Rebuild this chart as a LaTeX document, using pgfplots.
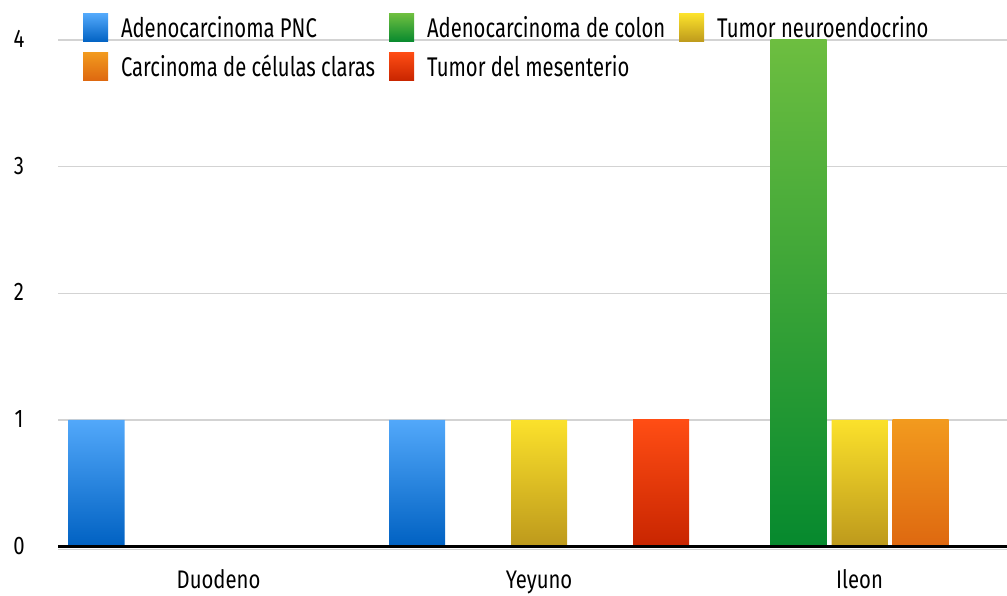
\documentclass[border=0pt]{standalone}
\usepackage{fontspec}
\setmainfont{Fira Sans}[FakeStretch=0.8]
\newfontfamily\legfont{Fira Sans}[FakeStretch=0.75]
\usepackage{pgfplots}
\pgfplotsset{compat=1.18}
\definecolor{blueT}{HTML}{52A8FA}
\definecolor{blueB}{HTML}{0061C2}
\definecolor{greenT}{HTML}{6DBE40}
\definecolor{greenB}{HTML}{06892E}
\definecolor{yellowT}{HTML}{FBE12B}
\definecolor{yellowB}{HTML}{BD991C}
\definecolor{orangeT}{HTML}{F29A1E}
\definecolor{orangeB}{HTML}{DE6810}
\definecolor{redT}{HTML}{FF4D14}
\definecolor{redB}{HTML}{C82500}
\definecolor{gridc}{HTML}{D3D3D3}
\begin{document}
\begin{tikzpicture}
\begin{axis}[
  scale only axis,
  width=474.35pt, height=253.3pt,
  xmin=-0.5, xmax=2.46,
  ymin=0, ymax=4,
  clip=false,
  axis line style={draw=none},
  xtick={0,1,2},
  xticklabels={Duodeno,Yeyuno,Ileon},
  ytick={0,1,2,3,4},
  major tick length=0pt,
  ymajorgrids,
  grid style={gridc, line width=0.75pt},
  /pgf/number format/assume math mode=true,
  xticklabel style={font=\fontsize{12.7}{14}\selectfont, anchor=base, yshift=-21pt},
  yticklabel style={font=\fontsize{12.7}{14}\selectfont, anchor=base, xshift=-19.65pt, yshift=-3.75pt},
  ybar, bar width=28pt,
  legend columns=3,
  legend style={draw=none, fill=none, inner sep=0pt, outer sep=0pt,
    at={(0.02604,1.0513)}, anchor=north west,
    font=\legfont\fontsize{13.5}{15}\selectfont,
    nodes={inner sep=0pt, text depth=3pt, anchor=base west},
    row sep=4.25pt,
    /tikz/every odd column/.append style={column sep=6.5pt},
    /tikz/every even column/.append style={column sep=7pt}},
  legend cell align=left,
  legend image code/.code={\path[#1, draw=none] (0pt,-2pt) rectangle (12.5pt,12pt);},
]
\addplot[draw=none, bar shift=-61pt, top color=blueT, bottom color=blueB] coordinates {(0,1) (1,1)};
\addplot[draw=none, bar shift=-30.5pt, top color=greenT, bottom color=greenB] coordinates {(2,4)};
\addplot[draw=none, bar shift=0pt, top color=yellowT, bottom color=yellowB] coordinates {(1,1) (2,1)};
\addplot[draw=none, bar shift=30.5pt, top color=orangeT, bottom color=orangeB] coordinates {(2,1)};
\addplot[draw=none, bar shift=61pt, top color=redT, bottom color=redB] coordinates {(1,1)};
\legend{Adenocarcinoma PNC, Adenocarcinoma de colon, Tumor neuroendocrino, Carcinoma de células claras, Tumor del mesenterio}
\draw[gridc, line width=0.6pt] ([yshift=-1.3pt]rel axis cs:0,0) -- ([yshift=-1.3pt]rel axis cs:1,0);
\draw[black, line width=1.5pt] (rel axis cs:0,0) -- (rel axis cs:1,0);
\end{axis}
\pgfresetboundingbox
\path[use as bounding box] ([xshift=-29.15pt, yshift=-24.65pt]current axis.south west) rectangle ([yshift=20pt]current axis.north east);
\end{tikzpicture}
\end{document}
